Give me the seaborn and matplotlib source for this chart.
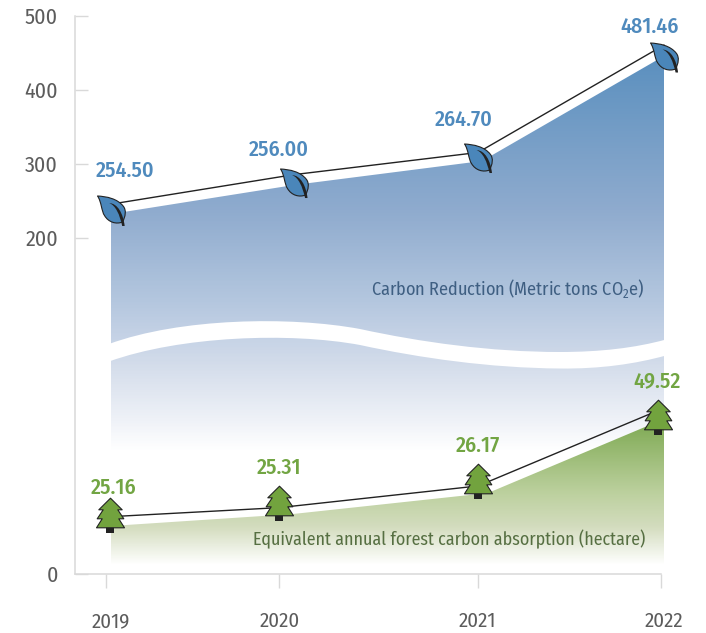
import numpy as np
import pandas as pd
import matplotlib
matplotlib.use("Agg")
import matplotlib.pyplot as plt
import seaborn as sns
from matplotlib.path import Path
from matplotlib.patches import PathPatch
from matplotlib.colors import LinearSegmentedColormap
from matplotlib.transforms import ScaledTranslation
from matplotlib import font_manager as fm

# ---------- data ----------
years = [2019, 2020, 2021, 2022]
y_ticks = [0, 200, 300, 400, 500]
carbon_labels = ["254.50", "256.00", "264.70", "481.46"]
forest_labels = ["25.16", "25.31", "26.17", "49.52"]

carbon_x = [2019.027, 2020.073, 2021.0, 2022.014]
carbon_line = [245.0, 284.9, 314.9, 460.1]
carbon_marker = [236.5, 274.3, 308.1, 443.9]
carbon_fill_x = [2019.027, 2020.073, 2021.022, 2022.014]
carbon_fill = [232.2, 271.6, 303.4, 445.9]

forest_x = [2019.023, 2020.0, 2021.0, 2021.979]
forest_line = [33.8, 39.2, 52.1, 96.9]
forest_marker = [34.8, 42.0, 55.0, 93.2]
forest_fill_x = [2019.027, 2020.07, 2021.055, 2022.014]
forest_fill = [28.3, 35.4, 48.2, 91.7]

carbon_caption = r"Carbon Reduction (Metric tons CO$_2$e)"
forest_caption = "Equivalent annual forest carbon absorption (hectare)"

# ---------- style ----------
sns.set_theme(style="white")
names = {f.name for f in fm.fontManager.ttflist}
narrow = next((n for n in ["Fira Sans Condensed", "Asap Condensed", "Roboto"] if n in names), "DejaVu Sans")
plt.rcParams["font.family"] = [narrow, "DejaVu Sans"]
plt.rcParams["mathtext.default"] = "regular"
PX = 0.72  # points per pixel at dpi 100
W, H = 706, 633
AL, AR, AT, AB = 75, 700, 15.5, 573.5
GREY, TXT = "#d9d9d9", "#5c5c5c"
BLUE, GREEN = "#4f8abd", "#72a543"
INK = "#222222"

fig = plt.figure(figsize=(W / 100, H / 100), dpi=100, facecolor="white")
ax = fig.add_axes([AL / W, 1 - AB / H, (AR - AL) / W, (AB - AT) / H])

# non-uniform year axis and broken value axis, as piecewise scales
xk_year = [2018, 2019, 2020, 2021, 2022, 2023]
xk_px = [-67, 106, 279, 478, 661.5, 845]
yk_val = [-200, 0, 200, 500, 800]
yk_px = [-336, 0, 336, 558, 780]
xf = lambda v: np.interp(v, xk_year, xk_px)
xi = lambda p: np.interp(p, xk_px, xk_year)
yf = lambda v: np.interp(v, yk_val, yk_px)
yi = lambda p: np.interp(p, yk_px, yk_val)
ax.set_xscale("function", functions=(xf, xi))
ax.set_yscale("function", functions=(yf, yi))
ax.set_xlim(xi(AL), xi(AR))
ax.set_ylim(0, 500)


def gradient_fill(xs, top, stops, z):
    """Area under a series, painted with a vertical gradient (stops: px y, colour)."""
    y_bot = stops[-1][0]
    base = yi(AB - y_bot)
    poly = ax.fill_between(xs, top, base, color="none", linewidth=0, zorder=z)
    y0 = stops[0][0]
    rows = np.arange(y0, y_bot + 1, 1.0)
    edges = yi(AB - rows)
    pos = [(s[0] - y0) / (y_bot - y0) for s in stops]
    cmap = LinearSegmentedColormap.from_list("g", list(zip(pos, [s[1] for s in stops])))
    vals = ((rows[:-1] + 0.5 - y0) / (y_bot - y0)).reshape(-1, 1)
    m = ax.pcolormesh([xs[0], xs[-1]], edges, vals, cmap=cmap, vmin=0, vmax=1,
                      shading="flat", antialiased=False, linewidth=0, zorder=z)
    m.set_clip_path(poly.get_paths()[0], transform=ax.transData)


gradient_fill(carbon_fill_x, carbon_fill,
              [(55, "#5a8fbe"), (212, "#8fabce"), (300, "#b3c6de"), (340, "#c6d3e6"),
               (365, "#d3dcea"), (420, "#eef1f7"), (452, "#ffffff")], 1)

# white ribbon that marks the axis break
def a(px, py):
    return ((px - AL) / (AR - AL), (AB - py) / (AB - AT))
rib = [(109, 344), (180, 318), (290, 316), (360, 329), (420, 342), (490, 352), (560, 352),
       (600, 352), (635, 348), (666, 339.5),
       (666, 355.5), (635, 364), (600, 369), (560, 368.5), (490, 368), (420, 358), (360, 345),
       (290, 332), (180, 336), (109, 361.5), (109, 344)]
codes = [Path.MOVETO] + [Path.CURVE4] * 9 + [Path.LINETO] + [Path.CURVE4] * 9 + [Path.CLOSEPOLY]
ax.add_patch(PathPatch(Path([a(*p) for p in rib], codes), transform=ax.transAxes,
                       facecolor="white", edgecolor="none", zorder=2))

gradient_fill(forest_fill_x, forest_fill,
              [(419, "#7ca850"), (493, "#bcd09e"), (527, "#d3dcbe"), (565, "#ffffff")], 3)

# connecting lines
sns.lineplot(data=pd.DataFrame({"x": carbon_x, "y": carbon_line}), x="x", y="y", ax=ax, sort=False,
             color=INK, linewidth=1.0, errorbar=None, zorder=4)
sns.lineplot(data=pd.DataFrame({"x": forest_x, "y": forest_line}), x="x", y="y", ax=ax, sort=False,
             color=INK, linewidth=1.0, errorbar=None, zorder=4)


# marker shapes (pixel-sized, y up); the guard corners fix the marker scale
def marker(verts, codes_, guard):
    v = [(-guard, -guard), (guard, guard)] + verts
    c = [Path.MOVETO, Path.MOVETO] + codes_
    return Path(v, c), (2 * guard * PX) ** 2


C4 = Path.CURVE4
leaf, s_leaf = marker(
    [(-14, 14.5), (-5, 14), (6, 12), (12, 4), (15, 0), (14, -6), (11, -11.5),
     (5, -14), (-3, -12), (-7, -5), (-10, -1), (-10, 9), (-14, 14.5), (-14, 14.5)],
    [Path.MOVETO] + [C4] * 12 + [Path.CLOSEPOLY], 16)
vein, _ = marker(
    [(-1.5, 7.5), (5, 5), (9, -4), (11.5, -15.5), (14, -15.5), (12.5, -3), (7, 7),
     (-1.5, 7.5), (-1.5, 7.5)],
    [Path.MOVETO, C4, C4, C4, Path.LINETO, C4, C4, C4, Path.CLOSEPOLY], 16)
tree, s_tree = marker(
    [(0, 17.3), (11.7, 5.7), (7.3, 5.7), (13.3, -3.3), (8.3, -3.3), (14, -12.3),
     (-14, -12.3), (-8.3, -3.3), (-13.3, -3.3), (-7.3, 5.7), (-11.7, 5.7), (0, 17.3), (0, 17.3)],
    [Path.MOVETO] + [Path.LINETO] * 11 + [Path.CLOSEPOLY], 19)
trunk, _ = marker([(-4, -12.3), (4, -12.3), (4, -18.3), (-4, -18.3), (-4, -12.3)],
                  [Path.MOVETO] + [Path.LINETO] * 3 + [Path.CLOSEPOLY], 19)

d_leaf = pd.DataFrame({"x": carbon_x, "y": carbon_marker})
d_tree = pd.DataFrame({"x": forest_x, "y": forest_marker})
sns.scatterplot(data=d_leaf, x="x", y="y", ax=ax, marker=leaf, s=s_leaf, color="#4a86ba",
                edgecolor=INK, linewidth=0.8, zorder=5, clip_on=False)
sns.scatterplot(data=d_leaf, x="x", y="y", ax=ax, marker=vein, s=s_leaf, color=INK,
                edgecolor="none", linewidth=0, zorder=6, clip_on=False)
sns.scatterplot(data=d_tree, x="x", y="y", ax=ax, marker=trunk, s=s_tree, color=INK,
                edgecolor="none", linewidth=0, zorder=5, clip_on=False)
sns.scatterplot(data=d_tree, x="x", y="y", ax=ax, marker=tree, s=s_tree, color="#72a33e",
                edgecolor=INK, linewidth=0.8, zorder=6, clip_on=False)

# value labels, offset from their markers (px right, px up)
carbon_off = [(14, 39.5), (-14.5, 32.5), (-14, 37.5), (-15, 30)]
forest_off = [(4, 27), (0, 35), (0, 35), (-0.5, 36)]
for x, y, t, (dx, dy) in zip(carbon_x, carbon_marker, carbon_labels, carbon_off):
    ax.annotate(t, (x, y), xytext=(dx * PX, dy * PX), textcoords="offset points", ha="center",
                va="center", color=BLUE, fontsize=15.8, fontweight="medium", zorder=7)
for x, y, t, (dx, dy) in zip(forest_x, forest_marker, forest_labels, forest_off):
    ax.annotate(t, (x, y), xytext=(dx * PX, dy * PX), textcoords="offset points", ha="center",
                va="center", color=GREEN, fontsize=15.8, fontweight="medium", zorder=7)

# series captions
ax.text(*a(645, 288), carbon_caption, transform=ax.transAxes, ha="right", va="center",
        color="#3f5f82", fontsize=13.1, zorder=7)
ax.text(*a(645, 539), forest_caption, transform=ax.transAxes, ha="right", va="center",
        color="#566f42", fontsize=12.9, zorder=7)

# axes
for side in ["top", "right"]:
    ax.spines[side].set_visible(False)
for side in ["left", "bottom"]:
    ax.spines[side].set_color(GREY)
    ax.spines[side].set_linewidth(1.1)
ax.spines["bottom"].set_bounds(xi(AL), 2022)
ax.set_xlabel("")
ax.set_ylabel("")
ax.set_xticks(years)
ax.set_xticklabels([str(y) for y in years])
ax.set_yticks(y_ticks)
ax.set_yticklabels([str(y) for y in y_ticks])
ax.minorticks_off()
ax.tick_params(axis="y", direction="in", length=13 * PX, width=1.0, color=GREY,
               labelcolor=TXT, labelsize=15.8, pad=17 * PX, left=True)
ax.tick_params(axis="x", direction="out", length=14 * PX, width=1.0, color=GREY,
               labelcolor=TXT, labelsize=15, pad=24 * PX, bottom=True)
label_shift = [5, 0.5, -1, 2]
for lab, dx in zip(ax.get_xticklabels(), label_shift):
    lab.set_transform(lab.get_transform() + ScaledTranslation(dx / 100, 0, fig.dpi_scale_trans))

fig.savefig("out.png", dpi=100, facecolor="white")
